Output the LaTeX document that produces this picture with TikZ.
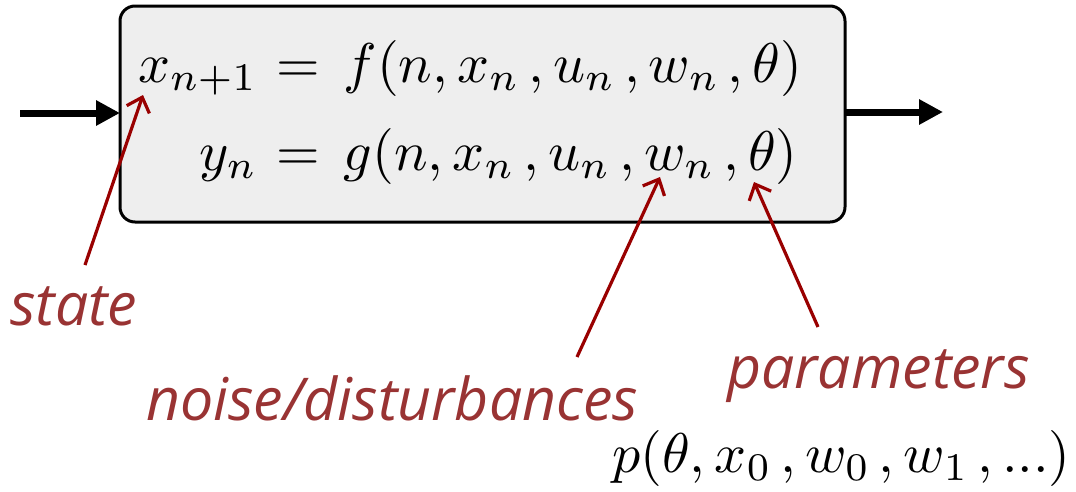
\documentclass[tikz,border=0pt]{standalone}
\usepackage{amsmath}
\usepackage{graphicx}
\usepackage{fontspec}
\newfontfamily\labfont{Open Sans}
\usetikzlibrary{arrows.meta}
\definecolor{boxfill}{HTML}{EEEEEE}
\definecolor{arrred}{HTML}{990000}
\definecolor{labred}{HTML}{993333}
\newcommand{\bigmath}[2]{\scalebox{#1}{\scriptspace=2pt $#2$}}
\tikzset{
  sysbox/.style={draw=black, line width=3pt, fill=boxfill, rounded corners=15pt},
  flow/.style={line width=7pt, -{Triangle[length=24pt,width=24pt]}},
  pointer/.style={draw=arrred, line width=3.2pt, -{Straight Barb[length=13pt,width=24pt,line width=3.2pt]}},
  lab/.style={text=labred, inner sep=0pt, font=\labfont\itshape\fontsize{59}{64}\selectfont},
  eq/.style={inner sep=0pt},
}
\begin{document}
\begin{tikzpicture}[x=1pt,y=-1pt]
\useasboundingbox (0,0) rectangle (1076,491);
\path[sysbox] (120,6) rectangle (845,222);
\node[coordinate] (boxW) at (120,113) {};
\node[coordinate] (boxE) at (845,112) {};
\coordinate (inS) at (20,113);
\coordinate (outE) at (943,112);
\draw[flow] (inS) -- (boxW);
\draw[flow] (boxE) -- (outE);

\node[eq, anchor=base east] (lhs1) at (266,82) {\bigmath{5.6}{x_{n+1}}};
\node[eq, anchor=base west] (rhs1) at (261,82) {\bigmath{5.6}{{}=\mkern2.5mu f(n, x_n, u_n, w_n, \theta)}};
\node[eq, anchor=base east] (lhs2) at (266,170) {\bigmath{5.6}{y_n}};
\node[eq, anchor=base west] (rhs2) at (261,170) {\bigmath{5.6}{{}=\mkern2.5mu g(n, x_n, u_n, w_n, \theta)}};

\node[lab, anchor=base west] (state) at (10,325) {state};
\node[lab, anchor=base west] (noise) at (146,420) {noise/disturbances};
\node[lab, anchor=base west] (params) at (727,388) {parameters};
\node[eq, anchor=base west] (prior) at (612,472) {\bigmath{5.6}{p(\theta, x_0, w_0, w_1, ...)}};

\coordinate (stateS) at (85,265);
\coordinate (stateT) at (143,95);
\coordinate (noiseS) at (577,357);
\coordinate (noiseT) at (660,177);
\coordinate (paramS) at (818,327);
\coordinate (paramT) at (754,182);
\draw[pointer] (stateS) -- (stateT);
\draw[pointer] (noiseS) -- (noiseT);
\draw[pointer] (paramS) -- (paramT);
\end{tikzpicture}
\end{document}
